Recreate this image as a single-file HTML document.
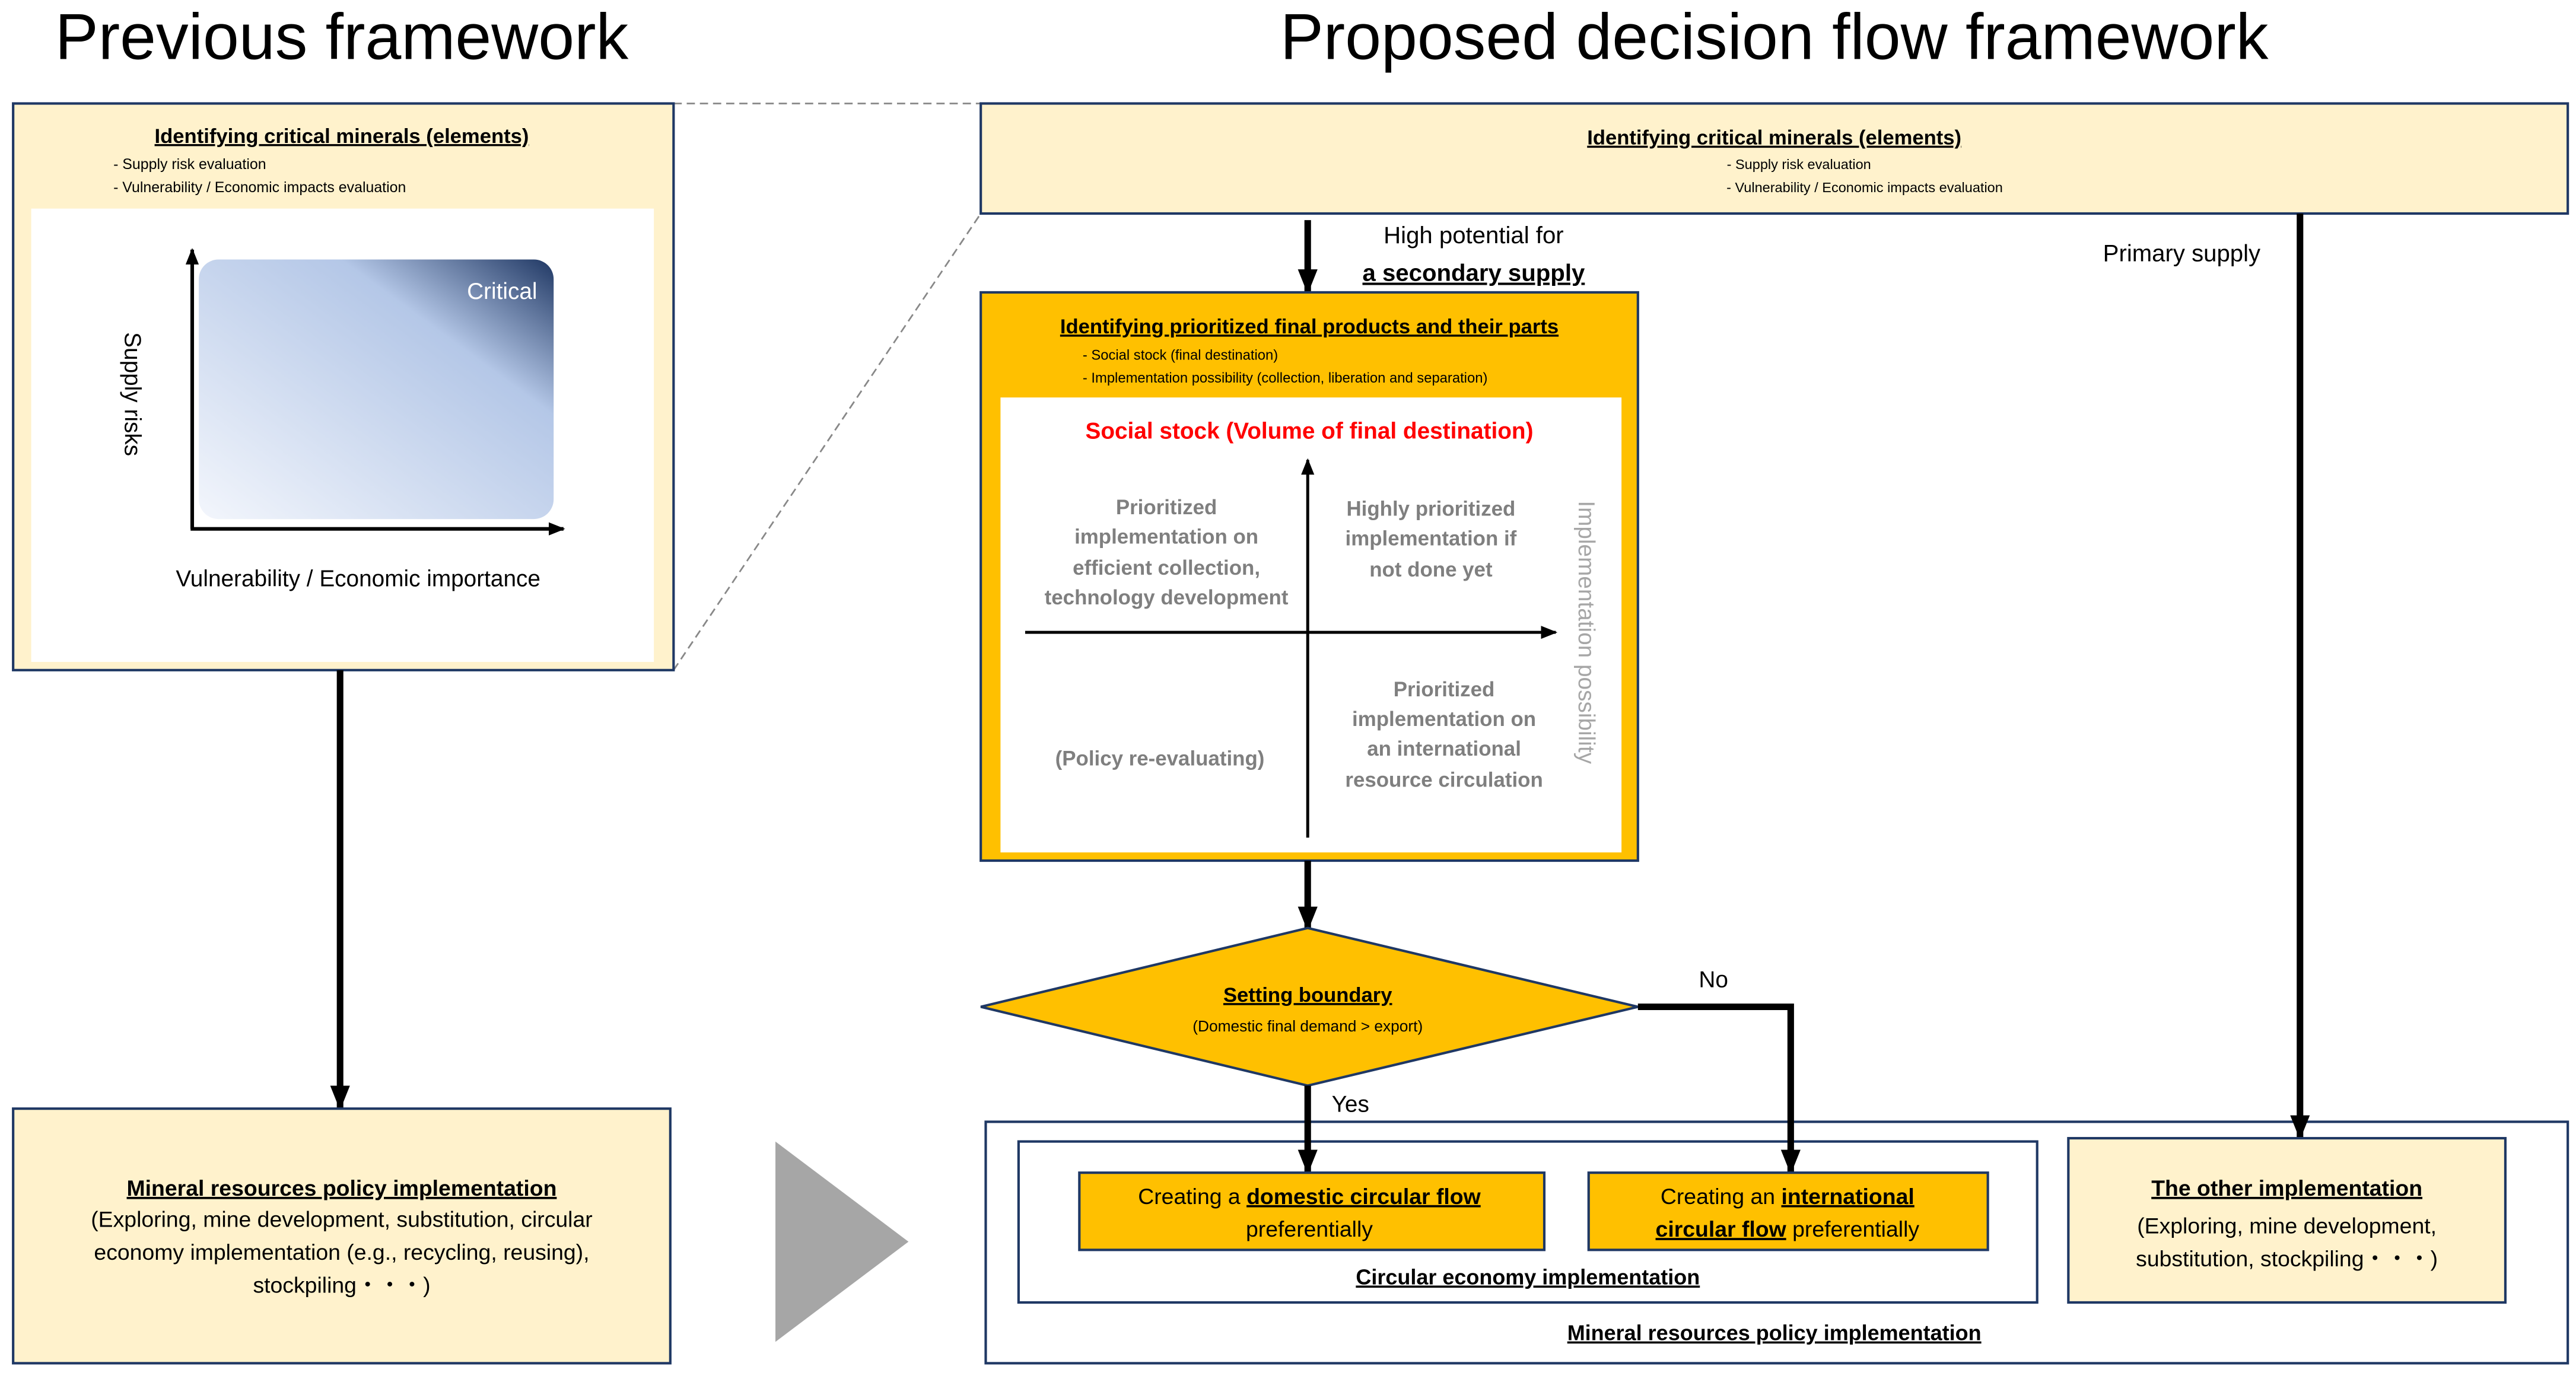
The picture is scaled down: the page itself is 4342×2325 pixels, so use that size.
<!DOCTYPE html>
<html><head><meta charset="utf-8"><style>
html,body{margin:0;padding:0;background:#fff;}
svg{display:block;}
text{font-family:"Liberation Sans",sans-serif;}
.b{font-weight:bold;text-decoration:underline;}
.g{fill:#7f7f7f;font-weight:bold;font-size:12.6px;}
</style></head><body>
<svg width="4342" height="2325" viewBox="0 0 1568 839.6" xmlns="http://www.w3.org/2000/svg">
<defs>
<linearGradient id="gr" x1="0" y1="1" x2="1" y2="0">
<stop offset="0" stop-color="#f3f6fc"/>
<stop offset="0.7" stop-color="#b4c7e7"/>
<stop offset="1" stop-color="#203864"/>
</linearGradient>
<marker id="ah" markerWidth="10" markerHeight="8" refX="9" refY="4" orient="auto" markerUnits="userSpaceOnUse"><path d="M0,0 L10,4 L0,8 z" fill="#000"/></marker>
<marker id="ah2" markerWidth="15" markerHeight="12" refX="14" refY="6" orient="auto" markerUnits="userSpaceOnUse"><path d="M0,0 L15,6 L0,12 z" fill="#000"/></marker>
</defs>

<text x="208" y="36" font-size="39.5" text-anchor="middle">Previous framework</text>
<text x="1080" y="36" font-size="39.5" text-anchor="middle">Proposed decision flow framework</text>

<line x1="410" y1="63" x2="597" y2="63" stroke="#888" stroke-width="1" stroke-dasharray="5,3"/>
<line x1="410" y1="408" x2="597" y2="130" stroke="#888" stroke-width="1" stroke-dasharray="5,3"/>

<rect x="8" y="63" width="402" height="345" fill="#fff2cc" stroke="#1f3864" stroke-width="1.5"/>
<text x="208" y="87" font-size="12.5" text-anchor="middle" class="b">Identifying critical minerals (elements)</text>
<text x="69" y="103" font-size="9">- Supply risk evaluation</text>
<text x="69" y="117" font-size="9">- Vulnerability / Economic impacts evaluation</text>
<rect x="19" y="127" width="379" height="276" fill="#fff"/>
<rect x="121" y="158" width="216" height="158" rx="12" fill="url(#gr)"/>
<line x1="117" y1="322" x2="117" y2="152" stroke="#000" stroke-width="2.2" marker-end="url(#ah)"/>
<line x1="116" y1="322" x2="343" y2="322" stroke="#000" stroke-width="2.2" marker-end="url(#ah)"/>
<text x="327" y="182" font-size="14" fill="#fff" text-anchor="end">Critical</text>
<text transform="translate(76,240) rotate(90)" font-size="14" text-anchor="middle">Supply risks</text>
<text x="218" y="357" font-size="14" text-anchor="middle">Vulnerability / Economic importance</text>

<line x1="207" y1="408" x2="207" y2="675" stroke="#000" stroke-width="4" marker-end="url(#ah2)"/>

<rect x="8" y="675" width="400" height="155" fill="#fff2cc" stroke="#1f3864" stroke-width="1.5"/>
<text x="208" y="728" font-size="13.5" text-anchor="middle" class="b">Mineral resources policy implementation</text>
<text x="208" y="747" font-size="13.5" text-anchor="middle">(Exploring, mine development, substitution, circular</text>
<text x="208" y="767" font-size="13.5" text-anchor="middle">economy implementation (e.g., recycling, reusing),</text>
<text x="208" y="787" font-size="13.5" text-anchor="middle">stockpiling・・・)</text>

<polygon points="472,695 472,817 553,756" fill="#a6a6a6"/>

<rect x="597" y="63" width="966" height="67" fill="#fff2cc" stroke="#1f3864" stroke-width="1.5"/>
<text x="1080" y="88" font-size="12.5" text-anchor="middle" class="b">Identifying critical minerals (elements)</text>
<text x="1095" y="103" font-size="8.5" text-anchor="middle">- Supply risk evaluation</text>
<text x="1135" y="117" font-size="8.5" text-anchor="middle">- Vulnerability / Economic impacts evaluation</text>

<line x1="796" y1="134" x2="796" y2="178" stroke="#000" stroke-width="4" marker-end="url(#ah2)"/>
<text x="897" y="148" font-size="14.5" text-anchor="middle">High potential for</text>
<text x="897" y="171" font-size="14.5" text-anchor="middle" class="b">a secondary supply</text>
<text x="1328" y="159" font-size="14.5" text-anchor="middle">Primary supply</text>

<rect x="597" y="178" width="400" height="346" fill="#ffc000" stroke="#1f3864" stroke-width="1.5"/>
<text x="797" y="203" font-size="12.5" text-anchor="middle" class="b">Identifying prioritized final products and their parts</text>
<text x="659" y="219" font-size="8.6">- Social stock (final destination)</text>
<text x="659" y="233" font-size="8.6">- Implementation possibility (collection, liberation and separation)</text>
<rect x="609" y="242" width="378" height="277" fill="#fff"/>
<text x="797" y="267" font-size="14" fill="#ff0000" font-weight="bold" text-anchor="middle">Social stock (Volume of final destination)</text>
<line x1="796" y1="510" x2="796" y2="280" stroke="#000" stroke-width="1.8" marker-end="url(#ah)"/>
<line x1="624" y1="385" x2="947" y2="385" stroke="#000" stroke-width="1.8" marker-end="url(#ah)"/>
<g class="g" text-anchor="middle">
<text x="710" y="313">Prioritized</text>
<text x="710" y="331">implementation on</text>
<text x="710" y="350">efficient collection,</text>
<text x="710" y="368">technology development</text>
<text x="871" y="314">Highly prioritized</text>
<text x="871" y="332">implementation if</text>
<text x="871" y="351">not done yet</text>
<text x="879" y="424">Prioritized</text>
<text x="879" y="442">implementation on</text>
<text x="879" y="460">an international</text>
<text x="879" y="479">resource circulation</text>
<text x="706" y="466">(Policy re-evaluating)</text>
</g>
<text transform="translate(961,385) rotate(90)" font-size="14" fill="#a6a6a6" text-anchor="middle">Implementation possibility</text>

<line x1="796" y1="524" x2="796" y2="566" stroke="#000" stroke-width="4" marker-end="url(#ah2)"/>

<polygon points="597,613 796,565 997,613 796,661" fill="#ffc000" stroke="#1f3864" stroke-width="1.5"/>
<text x="796" y="610" font-size="12.5" text-anchor="middle" class="b">Setting boundary</text>
<text x="796" y="628" font-size="9.5" text-anchor="middle">(Domestic final demand &gt; export)</text>
<text x="1043" y="601" font-size="14" text-anchor="middle">No</text>
<text x="822" y="677" font-size="14" text-anchor="middle">Yes</text>

<rect x="600" y="683" width="963" height="147" fill="#fff" stroke="#1f3864" stroke-width="1.5"/>
<rect x="620" y="695" width="620" height="98" fill="#fff" stroke="#1f3864" stroke-width="1.5"/>
<line x1="796" y1="661" x2="796" y2="714" stroke="#000" stroke-width="4" marker-end="url(#ah2)"/>
<polyline points="997,613 1090,613 1090,714" fill="none" stroke="#000" stroke-width="4" marker-end="url(#ah2)"/>
<line x1="1400" y1="130" x2="1400" y2="693" stroke="#000" stroke-width="4" marker-end="url(#ah2)"/>
<rect x="657" y="714" width="283" height="47" fill="#ffc000" stroke="#1f3864" stroke-width="1.5"/>
<rect x="967" y="714" width="243" height="47" fill="#ffc000" stroke="#1f3864" stroke-width="1.5"/>
<text x="797" y="733" font-size="13.5" text-anchor="middle">Creating a <tspan class="b">domestic circular flow</tspan></text>
<text x="797" y="753" font-size="13.5" text-anchor="middle">preferentially</text>
<text x="1088" y="733" font-size="13.5" text-anchor="middle">Creating an <tspan class="b">international</tspan></text>
<text x="1088" y="753" font-size="13.5" text-anchor="middle"><tspan class="b">circular flow</tspan> preferentially</text>
<text x="930" y="782" font-size="13" text-anchor="middle" class="b">Circular economy implementation</text>
<text x="1080" y="816" font-size="13" text-anchor="middle" class="b">Mineral resources policy implementation</text>
<rect x="1259" y="693" width="266" height="100" fill="#fff2cc" stroke="#1f3864" stroke-width="1.5"/>
<text x="1392" y="728" font-size="13.5" text-anchor="middle" class="b">The other implementation</text>
<text x="1392" y="751" font-size="13.5" text-anchor="middle">(Exploring, mine development,</text>
<text x="1392" y="771" font-size="13.5" text-anchor="middle">substitution, stockpiling・・・)</text>
</svg>
</body></html>
